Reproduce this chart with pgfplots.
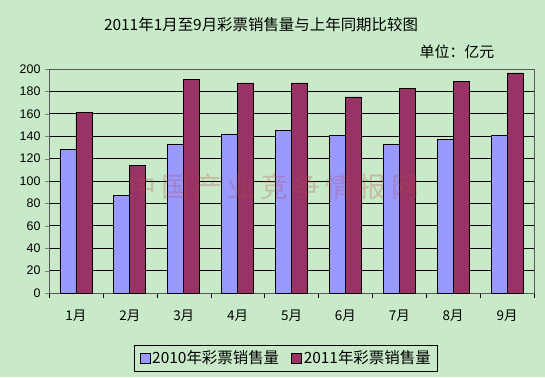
\documentclass[border=0pt]{standalone}
\usepackage{fontspec}
\setmainfont{Liberation Sans}
\newfontfamily\cjk{Noto Sans CJK SC}
\usepackage{pgfplots}
\pgfplotsset{compat=1.18}
\definecolor{bg}{RGB}{200,234,200}
\definecolor{sA}{RGB}{153,153,255}
\definecolor{sB}{RGB}{153,51,102}
\begin{document}
\begin{tikzpicture}[x=1bp,y=1bp]
\fill[bg] (0,0) rectangle (545,377);
\begin{axis}[
  at={(49bp,84bp)}, anchor=south west,
  scale only axis, width=485bp, height=224bp,
  ymin=0, ymax=200, ytick={0,20,...,200},
  xmin=-0.5, xmax=8.5,
  xtick={0,...,8},
  xticklabels={1月,2月,3月,4月,5月,6月,7月,8月,9月},
  xticklabel style={font=\cjk\fontsize{13.5}{13}\selectfont, yshift=-9bp},
  minor xtick={-0.5,0.5,...,8.5},
  major x tick style={draw=none},
  minor x tick style={draw=black},
  minor tick length=5bp,
  major tick length=4bp,
  tick align=outside,
  xtick pos=bottom, ytick pos=left,
  ymajorgrids, grid style={black, line width=0.8bp},
  axis line style={draw=gray!70!black},
  yticklabel style={font=\fontsize{12.5}{12}\selectfont, xshift=-1bp},
  /pgf/number format/assume math mode=true,
  ybar=0pt, bar width=16bp,
  axis background/.style={fill=bg},
  legend style={at={(0.489,-0.29)}, anchor=center, legend columns=2, draw=black, fill=none,
    font=\cjk\fontsize{15.5}{15}\selectfont, inner xsep=5bp, inner ysep=3.5bp,
    /tikz/every even column/.append style={column sep=10bp}},
  legend image code/.code={\draw[#1,draw=black,line width=0.6bp] (0bp,-5bp) rectangle (10bp,5bp);},
  clip=false,
]
\addplot[fill=sA, draw=black, line width=0.8bp] coordinates {(0,128) (1,87.5) (2,133) (3,142) (4,145) (5,141) (6,133) (7,137) (8,140.5)};
\addplot[fill=sB, draw=black, line width=0.8bp] coordinates {(0,161) (1,113.5) (2,191) (3,187.5) (4,187.5) (5,175) (6,183) (7,188.5) (8,196.5)};
\legend{2010年彩票销售量,2011年彩票销售量}
\end{axis}
\node[text=red!45!gray, opacity=0.28, font=\cjk\fontsize{28}{28}\selectfont] at (274,190) {中\hspace{5bp}国\hspace{5bp}产\hspace{5bp}业\hspace{5bp}竞\hspace{5bp}争\hspace{5bp}情\hspace{5bp}报\hspace{5bp}网};
\node[font=\cjk\fontsize{15.5}{16}\selectfont] at (261,352) {2011年1月至9月彩票销售量与上年同期比较图};
\node[font=\cjk\fontsize{15}{16}\selectfont] at (457,325) {单位：亿元};
\end{tikzpicture}
\end{document}
